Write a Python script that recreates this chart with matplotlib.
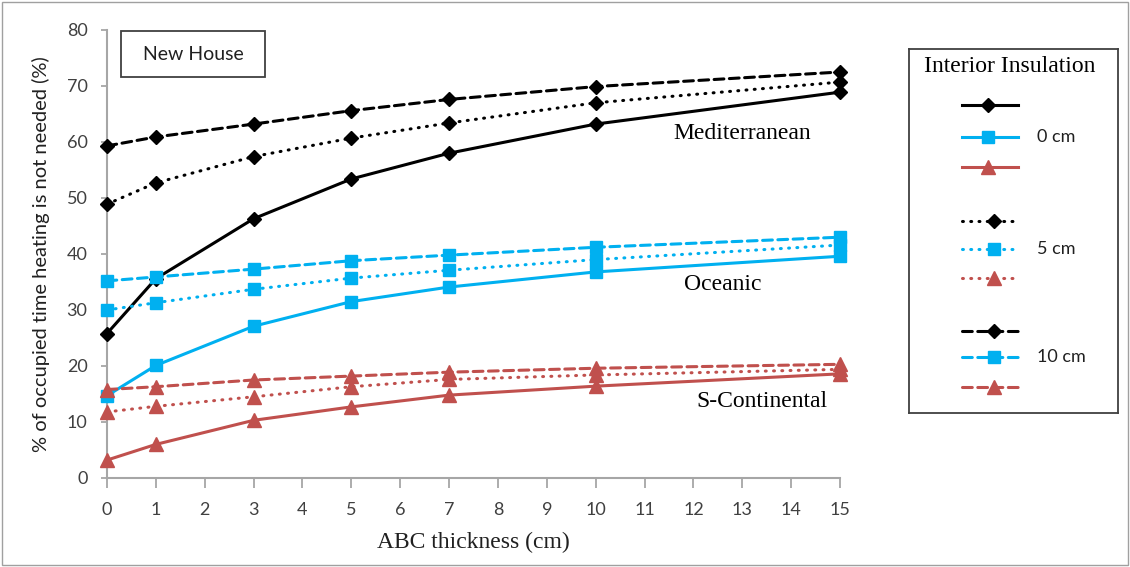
import matplotlib
matplotlib.use("Agg")
import matplotlib.pyplot as plt
from matplotlib.patches import Rectangle
from matplotlib.lines import Line2D

# ABC thickness (cm)
thickness = [0, 1, 3, 5, 7, 10, 15]

# % of occupied time heating is not needed, per climate and interior insulation
med_0cm = [25.8, 35.6, 46.3, 53.4, 58.0, 63.2, 68.9]
med_5cm = [48.9, 52.7, 57.4, 60.7, 63.4, 67.0, 70.7]
med_10cm = [59.3, 60.9, 63.2, 65.6, 67.6, 69.9, 72.5]

oce_0cm = [14.7, 20.1, 27.1, 31.5, 34.1, 36.8, 39.6]
oce_5cm = [30.0, 31.3, 33.7, 35.7, 37.1, 39.0, 41.6]
oce_10cm = [35.2, 35.9, 37.3, 38.8, 39.8, 41.2, 43.0]

con_0cm = [3.2, 6.0, 10.3, 12.7, 14.8, 16.4, 18.6]
con_5cm = [11.8, 12.8, 14.5, 16.3, 17.6, 18.4, 19.4]
con_10cm = [15.8, 16.3, 17.5, 18.2, 18.9, 19.6, 20.3]

insulation_labels = ["0 cm", "5 cm", "10 cm"]
climate_labels = ["Mediterranean", "Oceanic", "S-Continental"]

black = "#000000"
blue = "#00B0F0"
red = "#C0504D"

styles = {
    "solid": "-",
    "dotted": (0, (0.3, 2.4)),
    "dashed": (0, (3.2, 1.8)),
}

series = [
    (med_0cm, black, "D", 7, styles["solid"]),
    (oce_0cm, blue, "s", 9, styles["solid"]),
    (con_0cm, red, "^", 10, styles["solid"]),
    (med_5cm, black, "D", 7, styles["dotted"]),
    (oce_5cm, blue, "s", 9, styles["dotted"]),
    (con_5cm, red, "^", 10, styles["dotted"]),
    (med_10cm, black, "D", 7, styles["dashed"]),
    (oce_10cm, blue, "s", 9, styles["dashed"]),
    (con_10cm, red, "^", 10, styles["dashed"]),
]

fig = plt.figure(figsize=(11.3, 5.67), dpi=100)
ax = fig.add_axes([107 / 1130, 1 - 478 / 567, 733 / 1130, 448 / 567])

for vals, col, mk, ms, ls in series:
    ax.plot(thickness, vals, color=col, marker=mk, markersize=ms, linestyle=ls,
            linewidth=2.2, dash_capstyle="round", clip_on=False, zorder=3)

ax.set_xlim(0, 15)
ax.set_ylim(0, 80)
ax.set_xticks(range(0, 16))
ax.set_yticks(range(0, 81, 10))
for side in ["top", "right"]:
    ax.spines[side].set_visible(False)
for side in ["left", "bottom"]:
    ax.spines[side].set_color("#A6A6A6")
    ax.spines[side].set_linewidth(1.5)
ax.tick_params(axis="both", colors="#A6A6A6", labelcolor="#404040", labelsize=13,
               width=1.3, direction="out")
ax.tick_params(axis="x", length=7, pad=10)
ax.tick_params(axis="y", length=4, pad=10)
for lbl in ax.get_xticklabels() + ax.get_yticklabels():
    lbl.set_family("Lato")

ax.set_ylabel("% of occupied time heating is not needed (%)", fontsize=14.5,
              family="Lato", color="#202020", labelpad=12)
ax.set_xlabel("ABC thickness (cm)", fontsize=17, family="Liberation Serif",
              color="#202020", labelpad=10)

# climate labels
ax.text(13.0, 61.6, climate_labels[0], fontsize=17, family="Liberation Serif",
        ha="center", va="center")
ax.text(12.6, 34.6, climate_labels[1], fontsize=17, family="Liberation Serif",
        ha="center", va="center")
ax.text(13.4, 13.6, climate_labels[2], fontsize=17, family="Liberation Serif",
        ha="center", va="center")

# New House box
fig.patches.append(Rectangle((121 / 1130, 1 - 77 / 567), 144 / 1130, 46 / 567,
                             transform=fig.transFigure, fill=False,
                             edgecolor="#404040", linewidth=1.3))
fig.text(193 / 1130, 1 - 55 / 567, "New House", fontsize=14, family="Lato",
         ha="center", va="center", color="#202020")

# legend box built by hand
lg = fig.add_axes([909 / 1130, 1 - 413 / 567, 209 / 1130, 364 / 567])
lg.set_xlim(909, 1118)
lg.set_ylim(413, 49)
lg.set_xticks([])
lg.set_yticks([])
for s in lg.spines.values():
    s.set_color("#404040")
    s.set_linewidth(1.3)
lg.text(1010, 66, "Interior Insulation", fontsize=17, family="Liberation Serif",
        ha="center", va="center")

row_y = [105, 137, 167, 221, 249, 278, 331, 357, 387]
for i, (vals, col, mk, ms, ls) in enumerate(series):
    y = row_y[i]
    mx = 988 if i < 3 else 994
    lg.add_line(Line2D([962, 1018], [y, y], color=col, linestyle=ls, linewidth=2.2,
                       dash_capstyle="round"))
    lg.add_line(Line2D([mx], [y], color=col, marker=mk, markersize=ms))
for j, lab in enumerate(insulation_labels):
    lg.text(1037, row_y[3 * j + 1], lab, fontsize=13, family="Lato",
            ha="left", va="center", color="#202020")

# outer frame
fig.patches.append(Rectangle((0.002, 0.004), 0.996, 0.992, transform=fig.transFigure,
                             fill=False, edgecolor="#A0A0A0", linewidth=1.0))

fig.savefig("out.png", dpi=100)
